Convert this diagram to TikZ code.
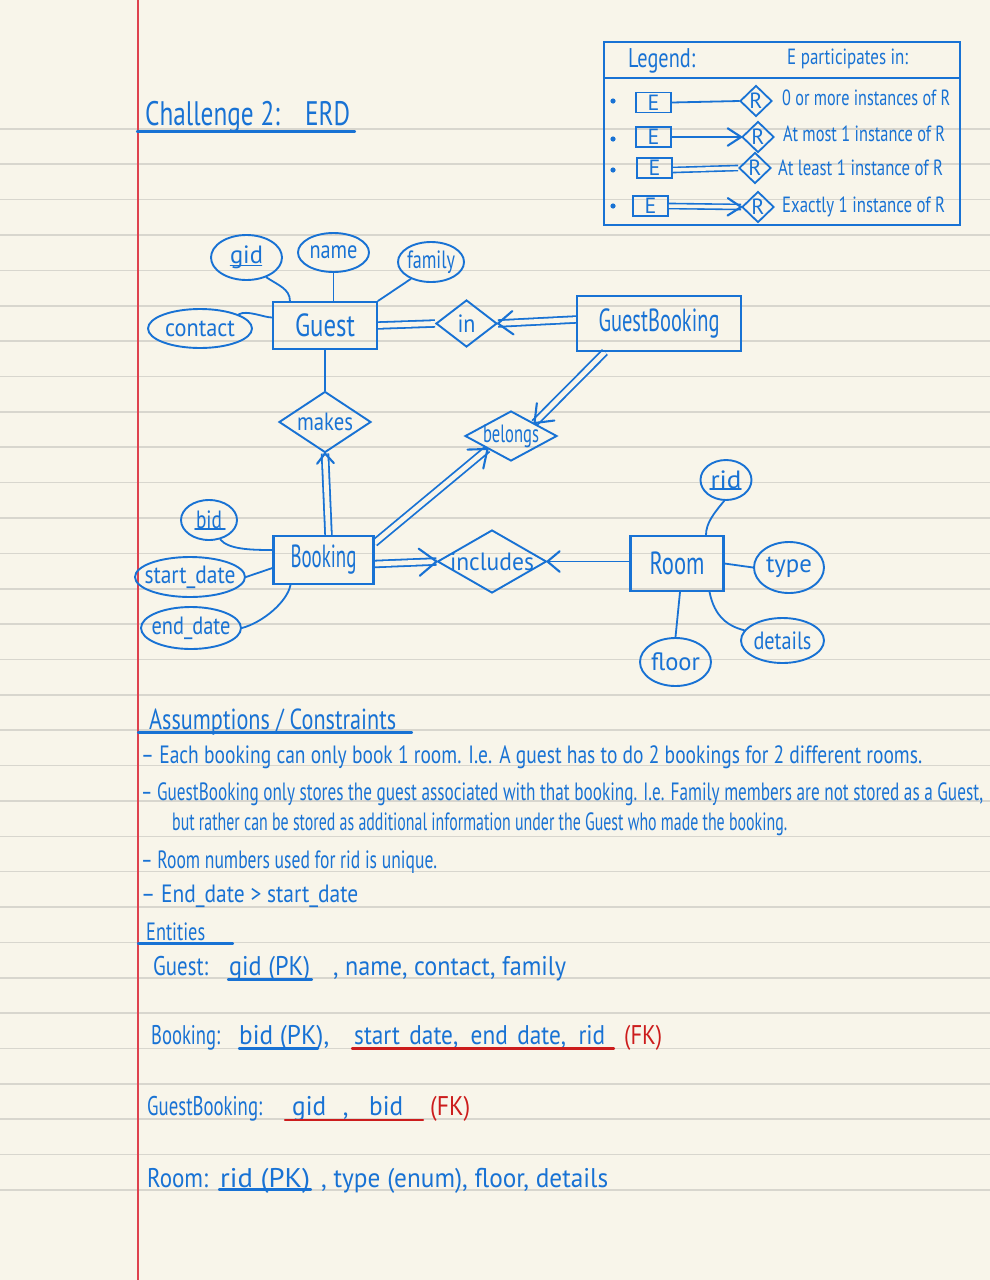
\documentclass[tikz,border=0pt]{standalone}
\usepackage{fontspec}
\setmainfont{PT Sans}
\usepackage{graphicx}
\usetikzlibrary{shapes.geometric,calc}

\definecolor{paper}{RGB}{248,245,234}
\definecolor{rulecol}{RGB}{216,214,206}
\definecolor{margincol}{RGB}{222,66,78}
\definecolor{ink}{RGB}{24,114,212}
\definecolor{redink}{RGB}{204,28,28}

\pgfdeclarelayer{paperbg}
\pgfdeclarelayer{conn}
\pgfsetlayers{paperbg,conn,main}

\newcommand{\fw}[2]{\resizebox{#1pt}{\height}{#2}}
\newcommand{\zw}[2]{\makebox[0pt]{\fw{#1}{#2}}}
\newcommand{\fEnt}{\fontsize{32}{34}\selectfont}
\newcommand{\fAttr}{\fontsize{25}{27}\selectfont}
\newcommand{\fLeg}{\fontsize{22}{24}\selectfont}
\newcommand{\fBody}{\fontsize{25}{27}\selectfont}
\newcommand{\fRow}{\fontsize{27}{29}\selectfont}
\newcommand{\barbs}[4][35]{\draw[inkline] ($(#2)!#4!#1:(#3)$) -- (#2) -- ($(#2)!#4!-#1:(#3)$);}

\begin{document}
\begin{tikzpicture}[x=1pt,y=-1pt,
  inkline/.style={draw=ink,line width=2.1pt,line cap=round,line join=round},
  thinline/.style={draw=ink,line width=1.8pt,line cap=round,line join=round},
  ent/.style={draw=ink,line width=2.1pt,rectangle,inner sep=0pt,text=ink},
  attr/.style={draw=ink,line width=1.9pt,ellipse,inner sep=0pt,text=ink,font=\fAttr},
  rel/.style={draw=ink,line width=1.9pt,diamond,inner sep=0pt,text=ink,font=\fAttr},
  legbox/.style={draw=ink,line width=1.8pt,rectangle,inner sep=0pt,text=ink,font=\fLeg,minimum width=35pt,minimum height=20pt},
  legrel/.style={draw=ink,line width=1.8pt,diamond,inner sep=0pt,text=ink,font=\fLeg,minimum width=32pt,minimum height=31pt},
  dbl/.style={draw=ink,line width=1.8pt,double=paper,double distance=4.8pt},
  dbls/.style={draw=ink,line width=1.6pt,double=paper,double distance=3.5pt},
  txt/.style={inner sep=0pt,text=ink,anchor=base west},
  redtxt/.style={inner sep=0pt,text=redink,anchor=base west},
]
\useasboundingbox (0,0) rectangle (990,1280);

% ---------- paper ----------
\begin{pgfonlayer}{paperbg}
  \fill[paper] (0,0) rectangle (990,1280);
  \foreach \k in {0,...,30}{
    \pgfmathsetmacro{\yy}{128.9+35.37*\k}
    \draw[rulecol,line width=1.6pt] (0,\yy) -- (990,\yy);
  }
  \draw[margincol,line width=1.4pt] (138,0) -- (138,1280);
\end{pgfonlayer}

% ---------- title ----------
\node[txt,font=\fontsize{34}{36}\selectfont] (title) at (145,125) {\fw{205}{Challenge 2:\quad ERD}};
\draw[inkline] (137,131.5) -- (355,131.5);

% ---------- legend ----------
\draw[ink,line width=1.9pt] (604,42) rectangle (960,225);
\draw[ink,line width=1.9pt] (604,78.3) -- (960,78.3);
\node[txt,font=\fontsize{27}{29}\selectfont] (legtitle) at (628,67) {\fw{67}{Legend:}};
\node[txt,font=\fLeg] (leghead) at (787,64) {\fw{121}{E participates in:}};

\foreach \yy in {101,139,170,206} \fill[ink] (613,\yy) circle (2.6pt);

\node[legbox] (e1) at (653.5,102.5) {E};
\node[legbox] (e2) at (653.5,137) {E};
\node[legbox] (e3) at (654.5,168) {E};
\node[legbox] (e4) at (650.5,206) {E};
\node[legrel] (r1) at (756,101) {R};
\node[legrel] (r2) at (758,137) {R};
\node[legrel] (r3) at (755,168) {R};
\node[legrel] (r4) at (758,207) {R};

\draw[thinline] (e1.east) -- (r1.west);
\draw[thinline] (e2.east) -- (r2.west);
\barbs[33]{r2.west}{e2.east}{16pt}
\draw[dbls] ($(e3.east)+(0,2)$) -- (r3.west);
\draw[dbls] ($(e4.east)+(0,0)$) -- (r4.west);
\barbs[33]{r4.west}{e4.east}{16pt}

\node[txt,font=\fLeg] (l1) at (782,105) {\fw{168}{0 or more instances of R}};
\node[txt,font=\fLeg] (l2) at (783,141) {\fw{162}{At most 1 instance of R}};
\node[txt,font=\fLeg] (l3) at (778,175) {\fw{165}{At least 1 instance of R}};
\node[txt,font=\fLeg] (l4) at (782,212) {\fw{163}{Exactly 1 instance of R}};

% ---------- ERD entities ----------
\node[ent,minimum width=104pt,minimum height=47pt] (guest) at (325,325.5) {\fEnt\fw{60}{Guest}};
\node[ent,minimum width=164pt,minimum height=55pt] (gb) at (659,323.5) {\fEnt\fw{121}{GuestBooking}};
\node[ent,minimum width=100pt,minimum height=48pt] (bk) at (323.5,560) {\fEnt\fw{66}{Booking}};
\node[ent,minimum width=93pt,minimum height=55pt] (room) at (677,563.5) {\fEnt\fw{55}{Room}};

% ---------- relationships ----------
\node[rel,minimum width=61pt,minimum height=47pt] (in) at (466.5,323.5) {\zw{18}{in}};
\node[rel,minimum width=92pt,minimum height=61pt] (makes) at (325,422) {\zw{56}{makes}};
\node[rel,minimum width=92pt,minimum height=50pt] (belongs) at (511,436) {\zw{56}{belongs}};
\node[rel,minimum width=109pt,minimum height=63pt] (includes) at (492,561.5) {\zw{84}{includes}};

% ---------- attributes ----------
\node[attr,minimum width=71pt,minimum height=45pt] (gid) at (246.5,257.5) {\zw{33}{gid}};
\node[attr,minimum width=71pt,minimum height=39pt] (name) at (333.5,252.5) {\zw{48}{name}};
\node[attr,minimum width=66pt,minimum height=40pt] (family) at (431,262) {\zw{48}{family}};
\node[attr,minimum width=104pt,minimum height=39pt] (contact) at (200,328.5) {\zw{70}{contact}};
\node[attr,minimum width=56pt,minimum height=40pt] (bid) at (209,520) {\zw{26}{bid}};
\node[attr,minimum width=110pt,minimum height=40pt] (startd) at (190,577) {\zw{91}{start\_date}};
\node[attr,minimum width=100pt,minimum height=42pt] (endd) at (191,628) {\zw{79}{end\_date}};
\node[attr,minimum width=51pt,minimum height=40pt] (rid) at (726,480) {\zw{31}{rid}};
\node[attr,minimum width=70pt,minimum height=51pt] (type) at (789,567.5) {\zw{46}{type}};
\node[attr,minimum width=83pt,minimum height=45pt] (details) at (782.5,640.5) {\zw{58}{details}};
\node[attr,minimum width=71pt,minimum height=48pt] (floor) at (675.5,662) {\zw{49}{floor}};

% key underlines
\draw[thinline] ($(gid.center)+(-16,8)$) -- ($(gid.center)+(15,8)$);
\draw[thinline] ($(bid.center)+(-14,9)$) -- ($(bid.center)+(16,9)$);
\draw[thinline] ($(rid.center)+(-16,9)$) -- ($(rid.center)+(15,9)$);

% ---------- connectors ----------
\begin{pgfonlayer}{conn}
  % attributes
  \draw[thinline] (gid.-45) .. controls +(12,8) and +(0,-12) .. ($(guest.north west)+(18,0)$);
  \draw[thinline] (name.south) -- (name.south |- guest.north);
  \draw[thinline] (family.-140) -- (guest.north east);
  \draw[thinline] (contact.20) .. controls +(8,-5) and +(-8,0) .. ($(guest.west)+(0,-8)$);
  \draw[thinline] (bid.-60) .. controls +(8,10) and +(-22,0) .. ($(bk.west)+(0,-10)$);
  \draw[thinline] (startd.east) -- ($(bk.west)+(0,8)$);
  \draw[thinline] (endd.east) .. controls +(22,-6) and +(-3,16) .. ($(bk.south west)+(18,0)$);
  \draw[thinline] (rid.-95) .. controls +(-10,12) and +(0,-12) .. ($(room.north)+(29,0)$);
  \draw[thinline] (room.east) -- (type.180);
  \draw[thinline] ($(room.south east)+(-15,0)$) .. controls +(5,25) and +(-16,-4) .. (details.165);
  \draw[thinline] ($(room.south)+(3,0)$) -- (floor.north);

  % relationships
  \draw[thinline] (guest.south) -- (makes.north);
  \draw[dbl] (guest.east) -- (in.west);
  \coordinate (gbin) at ($(gb.west)+(0,-4)$);
  \draw[dbl] (gbin) -- (in.east);
  \coordinate (bkmk) at ($(bk.north)+(5,0)$);
  \draw[dbl] (bkmk) -- (makes.south);
  \coordinate (gbbl) at ($(gb.south west)+(29,0)$);
  \draw[dbl] (gbbl) -- (belongs.north east);
  \coordinate (bkbl) at ($(bk.north east)+(0,8)$);
  \draw[dbl] (bkbl) -- (belongs.south west);
  \coordinate (bkin) at ($(bk.east)+(0,4)$);
  \draw[dbl] (bkin) -- (includes.west);
  \coordinate (rmin) at ($(room.west)+(0,-2)$);
  \draw[thinline] (rmin) -- (includes.east);
\end{pgfonlayer}

\barbs[38]{in.east}{gbin}{19pt}
\barbs[40]{makes.south}{bkmk}{13pt}
\barbs[38]{belongs.north east}{gbbl}{20pt}
\barbs[38]{belongs.south west}{bkbl}{20pt}
\barbs[38]{includes.west}{bkin}{22pt}
\barbs[40]{includes.east}{rmin}{16pt}

% ---------- assumptions ----------
\node[txt,font=\fontsize{29}{31}\selectfont] (ahead) at (149,729) {\fw{247}{Assumptions / Constraints}};
\draw[inkline] (138,732.5) -- (412,732.5);
\node[txt,font=\fBody] (a1) at (141,763) {\fw{781}{– Each booking can only book 1 room. I.e. A guest has to do 2 bookings for 2 different rooms.}};
\node[txt,font=\fBody] (a2) at (141,800) {\fw{842}{– GuestBooking only stores the guest associated with that booking. I.e. Family members are not stored as a Guest,}};
\node[txt,font=\fBody] (a3) at (172,830) {\fw{615}{but rather can be stored as additional information under the Guest who made the booking.}};
\node[txt,font=\fBody] (a4) at (141,868) {\fw{296}{– Room numbers used for rid is unique.}};
\node[txt,font=\fBody] (a5) at (141,902) {\fw{217}{– End\_date > start\_date}};

% ---------- entities ----------
\node[txt,font=\fBody] (ehead) at (146,940) {\fw{59}{Entities}};
\draw[inkline] (138,943.5) -- (233,943.5);

\node[txt,font=\fRow] (g1) at (153,975) {\fw{55}{Guest:}};
\node[txt,font=\fRow] (g2) at (229,975) {\fw{81}{gid (PK)}};
\node[txt,font=\fRow] (g3) at (333,975) {\fw{233}{, name, contact, family}};
\draw[inkline] (228,979.5) -- (312,979.5);

\node[txt,font=\fRow] (b1) at (151,1044) {\fw{69}{Booking:}};
\node[txt,font=\fRow] (b2) at (239,1044) {\fw{90}{bid (PK),}};
\node[txt,font=\fRow] (b3) at (354,1044) {\fw{251}{start\_date, \ end\_date, \ rid}};
\node[redtxt,font=\fRow] (b4) at (624,1044) {\fw{38}{(FK)}};
\draw[inkline] (239,1048.5) -- (318,1048.5);
\draw[redink,line width=2.1pt,line cap=round] (352,1048.5) -- (614,1048.5);

\node[txt,font=\fRow] (gb1) at (147,1115) {\fw{115}{GuestBooking:}};
\node[txt,font=\fRow] (gb2) at (292,1115) {\fw{111}{gid\hspace{18pt},\hspace{22pt}bid}};
\node[redtxt,font=\fRow] (gb3) at (430,1115) {\fw{40}{(FK)}};
\draw[redink,line width=2.1pt,line cap=round] (285,1120) -- (423,1120);

\node[txt,font=\fRow] (rm1) at (147,1187) {\fw{61}{Room:}};
\node[txt,font=\fRow] (rm2) at (220,1187) {\fw{90}{rid (PK)}};
\node[txt,font=\fRow] (rm3) at (321,1187) {\fw{287}{, type (enum), floor, details}};
\draw[inkline] (219,1189.5) -- (311,1189.5);

\end{tikzpicture}
\end{document}
